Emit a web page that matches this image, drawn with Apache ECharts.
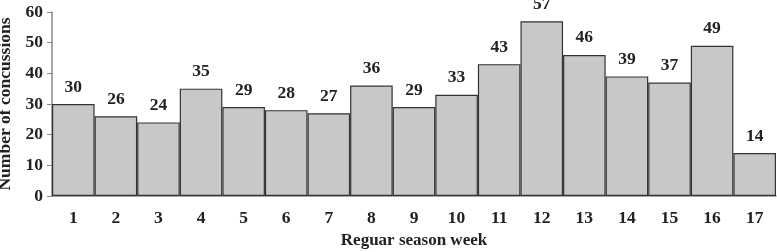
<!DOCTYPE html>
<html><head><meta charset="utf-8">
<script src="https://cdn.jsdelivr.net/npm/echarts@6/dist/echarts.min.js"></script>
<style>html,body{margin:0;padding:0;background:#fff}#c{width:777px;height:252px}</style>
</head><body><div id="c"></div>
<script>
var weeks = ['1','2','3','4','5','6','7','8','9','10','11','12','13','14','15','16','17'];
var concussions = [30,26,24,35,29,28,27,36,29,33,43,57,46,39,37,49,14];
var yTicks = [0,10,20,30,40,50,60];
var font = '"Liberation Serif", "Times New Roman", serif';
var fs = 17.5;
var chart = echarts.init(document.getElementById('c'));
chart.setOption({
  animation:false,
  grid:{left:52,right:1,top:12,bottom:56,containLabel:false,outerBoundsMode:'none'},
  xAxis:{type:'category',data:weeks,
    name:'Reguar season week',nameLocation:'middle',nameGap:35,
    nameTextStyle:{fontFamily:font,fontWeight:'bold',fontSize:17,color:'#222'},
    axisLine:{lineStyle:{color:'#888',width:1.5}},axisTick:{show:false},
    axisLabel:{fontFamily:font,fontWeight:'bold',fontSize:fs,color:'#222',margin:13}},
  yAxis:{type:'value',min:0,max:60,interval:10,
    name:'Number of concussions',nameLocation:'middle',nameGap:31,
    nameTextStyle:{fontFamily:font,fontWeight:'bold',fontSize:fs,color:'#222'},
    axisLine:{show:true,lineStyle:{color:'#888',width:1.5}},
    axisTick:{show:true,length:5,lineStyle:{color:'#888'}},
    splitLine:{show:false},
    axisLabel:{fontFamily:font,fontWeight:'bold',fontSize:fs,color:'#222',margin:9,
      formatter:function(v){return yTicks.indexOf(v)>=0?String(v):'';}}},
  series:[{type:'bar',data:concussions,barCategoryGap:'0%',
    itemStyle:{color:'#c8c8c8',borderColor:'#333',borderWidth:1.2},
    label:{show:true,position:'top',distance:8,fontFamily:font,fontWeight:'bold',fontSize:fs,color:'#222'}}]
});
</script></body></html>
